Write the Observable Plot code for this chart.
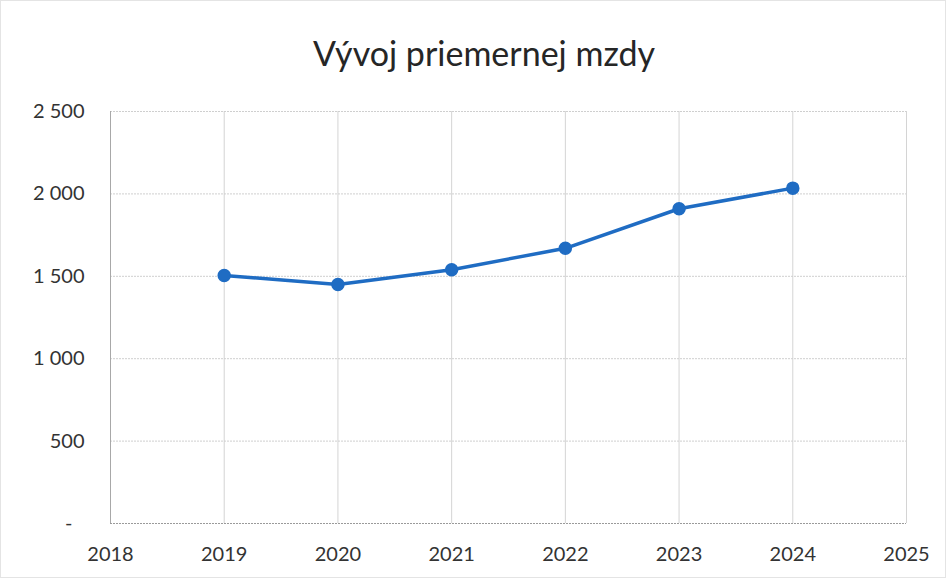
<!DOCTYPE html>
<html>
<head>
<meta charset="utf-8">
<script src="https://cdn.jsdelivr.net/npm/d3@7"></script>
<script src="https://cdn.jsdelivr.net/npm/@observablehq/plot@0.6"></script>
<style>
  html, body { margin: 0; padding: 0; background: #fff; }
  #wrap { position: relative; width: 944px; height: 576px; border: 1px solid #e4e4e4; overflow: hidden; }
  #title { height: 89px; line-height: 104px; text-align: center; font-family: Lato, "Open Sans", sans-serif; font-size: 34px; color: #262626; padding-left: 22px; }
  svg { display: block; }
</style>
</head>
<body>
<div id="wrap">
  <div id="title">Vývoj priemernej mzdy</div>
  <div id="chart"></div>
</div>
<script>
const years = [2019, 2020, 2021, 2022, 2023, 2024];
const wages = [1505, 1450, 1540, 1670, 1910, 2035];
const xTicks = [2018, 2019, 2020, 2021, 2022, 2023, 2024, 2025];
const yTicks = [0, 500, 1000, 1500, 2000, 2500];

const data = years.map((y, i) => ({year: y, wage: wages[i]}));
const fmt = d3.formatLocale({thousands: "\u00a0", grouping: [3], decimal: ","}).format(",");
const blue = "#1f6cc3";
const font = "Lato, 'Open Sans', sans-serif";

const chart = Plot.plot({
  width: 944,
  height: 487,
  marginTop: 21,
  marginBottom: 54,
  marginLeft: 109,
  marginRight: 39,
  style: {fontFamily: font, fontSize: "20px", color: "#333", background: "transparent"},
  x: {domain: [2018, 2025], ticks: xTicks, label: null},
  y: {domain: [0, 2500], ticks: yTicks, label: null},
  marks: [
    Plot.gridX(xTicks.slice(1), {stroke: "#d4d4d4", strokeOpacity: 1, strokeWidth: 1}),
    Plot.gridY(yTicks.slice(1), {stroke: "#cfcfcf", strokeOpacity: 1, strokeWidth: 1, strokeDasharray: "2,1"}),
    Plot.ruleX([2018], {stroke: "#a8a8a8", strokeWidth: 1}),
    Plot.ruleY([0], {stroke: "#9a9a9a", strokeWidth: 1.2, strokeDasharray: "2,1"}),
    Plot.axisX({ticks: xTicks, tickSize: 0, tickPadding: 23, tickFormat: d => String(d), fill: "#333", fontSize: 20, label: null}),
    Plot.axisY({ticks: yTicks.slice(1), tickSize: 0, tickPadding: 26, tickFormat: fmt, fill: "#333", fontSize: 20, label: null}),
    Plot.text([0], {x: 2018, y: d => d, text: d => "-", dx: -38, textAnchor: "end", fill: "#333", fontSize: 20}),
    Plot.line(data, {x: "year", y: "wage", stroke: blue, strokeWidth: 3.5}),
    Plot.dot(data, {x: "year", y: "wage", r: 6, fill: blue, stroke: blue})
  ]
});
document.getElementById("chart").appendChild(chart);
</script>
</body>
</html>
